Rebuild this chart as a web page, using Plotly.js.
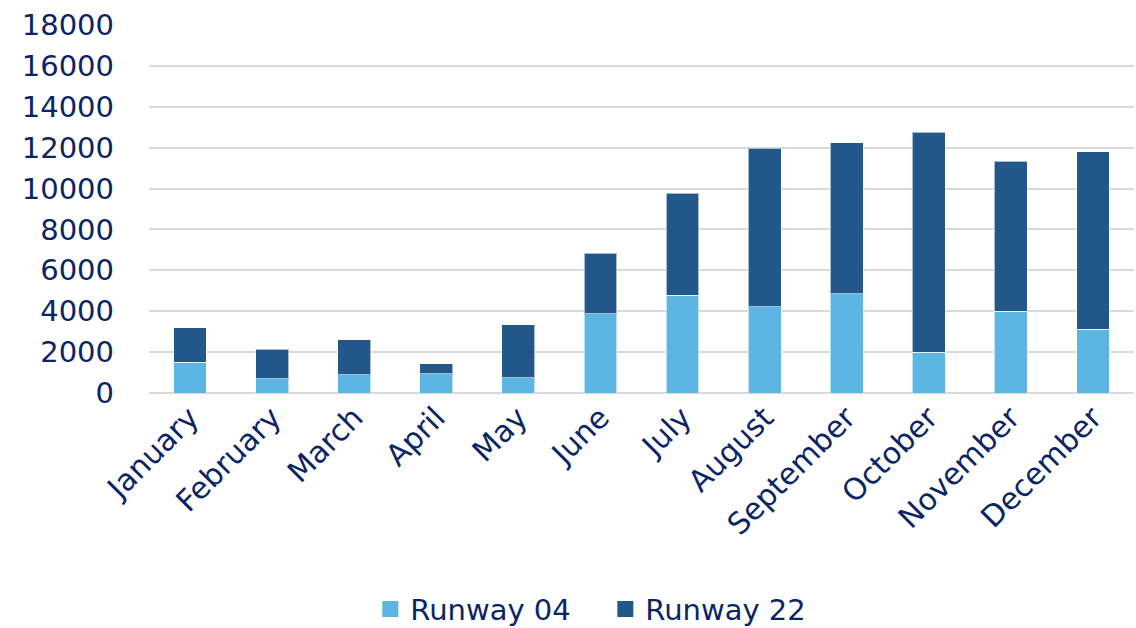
<!DOCTYPE html>
<html>
<head>
<meta charset="utf-8">
<script src="https://cdn.plot.ly/plotly-3.0.1.min.js"></script>
<style>html,body{margin:0;padding:0;background:#fff;}#chart{width:1136px;height:628px;}</style>
</head>
<body>
<div id="chart"></div>
<script>
const months = ["January","February","March","April","May","June","July","August","September","October","November","December"];
const runway04 = [1500, 700, 900, 930, 750, 3870, 4770, 4230, 4860, 1990, 4000, 3110];
const runway22 = [1690, 1430, 1710, 510, 2590, 2960, 5010, 7740, 7370, 10770, 7340, 8680];
const seriesNames = ["Runway 04", "Runway 22"];
const colors = ["#5DB5E3", "#22578A"];
const yTicks = [0,2000,4000,6000,8000,10000,12000,14000,16000,18000];

const textColor = "#0B2466";
const font = "DejaVu Sans, sans-serif";

const traces = [
  {type:"bar", name:seriesNames[0], x:months, y:runway04, showlegend:false, marker:{color:colors[0], line:{color:"rgba(255,255,255,0.6)", width:1}}},
  {type:"bar", name:seriesNames[1], x:months, y:runway22, showlegend:false, marker:{color:colors[1], line:{color:"rgba(255,255,255,0.6)", width:1}}},
  {type:"scatter", mode:"markers", name:seriesNames[0], x:[months[0]], y:[null], hoverinfo:"skip", marker:{symbol:"square", size:18, color:colors[0]}},
  {type:"scatter", mode:"markers", name:seriesNames[1], x:[months[0]], y:[null], hoverinfo:"skip", marker:{symbol:"square", size:18, color:colors[1]}}
];

const layout = {
  width:1136, height:628,
  barmode:"stack",
  bargap:0.6,
  paper_bgcolor:"#fff", plot_bgcolor:"#fff",
  margin:{l:149, r:2, t:25, b:235},
  font:{family:font, color:textColor, size:29},
  showlegend:true,
  legend:{orientation:"h", xref:"container", yref:"container", x:0.326, xanchor:"left", y:0.03, yanchor:"middle",
          font:{family:font, size:29, color:textColor}, itemwidth:30, entrywidth:190, traceorder:"normal"},
  xaxis:{range:[-0.5, 11.5], autorange:false, tickangle:-45, tickfont:{family:font, size:30, color:textColor}, showgrid:false, zeroline:false, showline:false, ticks:""},
  yaxis:{range:[0,18000], tickvals:yTicks, ticktext:yTicks.map(String), tickfont:{family:font, size:29, color:textColor},
         showgrid:true, gridcolor:"#D9D9D9", gridwidth:2, zeroline:true, zerolinecolor:"#D9D9D9", zerolinewidth:2, showline:false,
         ticklabelstandoff:34}
};

Plotly.newPlot("chart", traces, layout, {displayModeBar:false, staticPlot:true});
</script>
</body>
</html>
